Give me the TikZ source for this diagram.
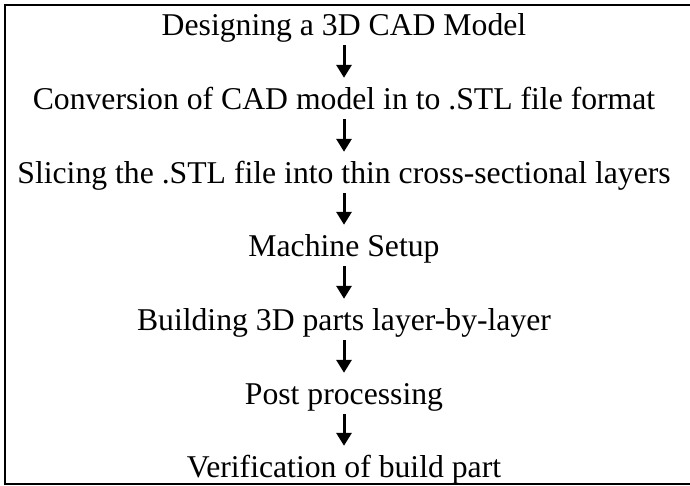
\documentclass[tikz,border=0pt]{standalone}
\usepackage{fontspec}
\setmainfont{Liberation Serif}
\usetikzlibrary{arrows.meta}
\begin{document}
\begin{tikzpicture}[x=1pt, y=1pt, font=\fontsize{31.7}{38}\selectfont, line join=miter,
		stage/.style={anchor=base, inner sep=0pt, text height=21pt, text depth=0pt},
		flow/.style={line width=3pt, -{Triangle[width=15pt,length=13pt]}}]
			\useasboundingbox (0,0) rectangle (690,-485);
			\clip (0,0) rectangle (690,-485);
			\draw[line width=2pt] (5,-5) rectangle (730,-483.5);
			\node[stage] (s1) at (344,-35) {Designing a 3D CAD Model};
			\node[stage] (s2) at (344,-109) {Conversion of CAD model in to .STL file format};
			\node[stage] (s3) at (344,-183) {Slicing the .STL file into thin cross-sectional layers};
			\node[stage] (s4) at (344,-256) {Machine Setup};
			\node[stage] (s5) at (344,-330) {Building 3D parts layer-by-layer};
			\node[stage] (s6) at (344,-404) {Post processing};
			\node[stage] (s7) at (344,-477) {Verification of build part};
			\foreach \i [evaluate=\i as \j using int(\i+1)] in {1,...,6}{\draw[flow] ([yshift=-10pt]s\i.south) -- ([yshift=10pt]s\j.north);}
		\end{tikzpicture}
\end{document}
